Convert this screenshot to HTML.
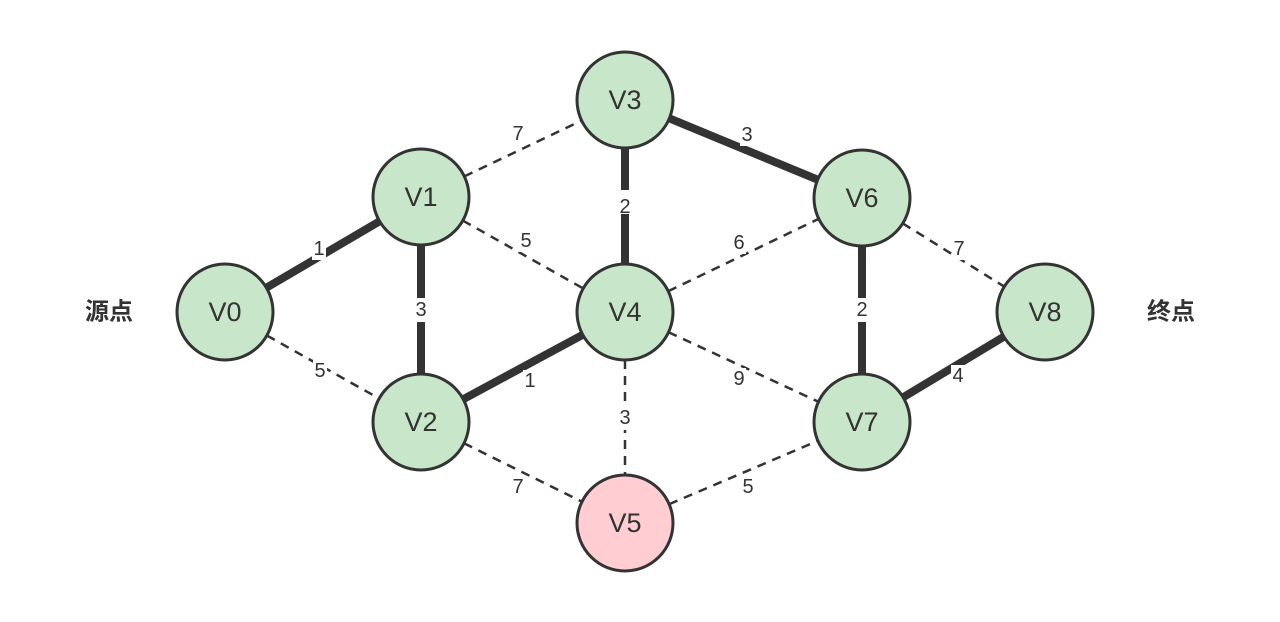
<!DOCTYPE html>
<html><head><meta charset="utf-8"><style>
html,body{margin:0;padding:0;background:#fff;}
svg{display:block;}
text{font-family:"Liberation Sans","Noto Sans CJK SC",sans-serif;}
</style></head><body>
<svg width="1280" height="622" viewBox="0 0 1280 622" xmlns="http://www.w3.org/2000/svg">
<g stroke="#333" fill="none">
<g stroke-width="8">
<line x1="225" y1="312" x2="421" y2="197"/>
<line x1="421" y1="197" x2="421" y2="422"/>
<line x1="421" y1="422" x2="625" y2="312"/>
<line x1="625" y1="100" x2="625" y2="312"/>
<line x1="625" y1="100" x2="862" y2="198"/>
<line x1="862" y1="198" x2="862" y2="422"/>
<line x1="862" y1="422" x2="1045" y2="312"/>
</g>
<g stroke-width="2.5" stroke-dasharray="9 7">
<line x1="225" y1="312" x2="421" y2="422"/>
<line x1="421" y1="197" x2="625" y2="100"/>
<line x1="421" y1="197" x2="625" y2="312"/>
<line x1="625" y1="312" x2="862" y2="198"/>
<line x1="625" y1="312" x2="862" y2="422"/>
<line x1="625" y1="312" x2="625" y2="523"/>
<line x1="421" y1="422" x2="625" y2="523"/>
<line x1="625" y1="523" x2="862" y2="422"/>
<line x1="862" y1="198" x2="1045" y2="312"/>
</g>
</g>
<g font-size="20" fill="#333" text-anchor="middle" dominant-baseline="central">
<g fill="#fff"><rect x="312" y="238" width="14" height="22"/><rect x="413" y="298" width="16" height="24"/><rect x="523" y="370" width="14" height="22"/><rect x="617" y="190" width="16" height="24"/><rect x="740" y="124" width="14" height="22"/><rect x="854" y="298" width="16" height="24"/><rect x="951" y="365" width="14" height="22"/><rect x="313" y="360" width="14" height="22"/><rect x="511" y="123" width="14" height="22"/><rect x="519" y="230" width="14" height="22"/><rect x="732" y="232" width="14" height="22"/><rect x="732" y="368" width="14" height="22"/><rect x="617" y="406" width="16" height="24"/><rect x="511" y="476" width="14" height="22"/><rect x="741" y="476" width="14" height="22"/><rect x="952" y="238" width="14" height="22"/></g>
<text x="319" y="249">1</text><text x="421" y="310">3</text><text x="530" y="381">1</text><text x="625" y="207">2</text><text x="747" y="135">3</text><text x="862" y="310">2</text><text x="958" y="376">4</text>
<text x="320" y="371">5</text><text x="518" y="134">7</text><text x="526" y="241">5</text><text x="739" y="243">6</text><text x="739" y="379">9</text><text x="625" y="418">3</text><text x="518" y="487">7</text><text x="748" y="487">5</text><text x="959" y="249">7</text>
</g>
<g stroke="#333" stroke-width="3" fill="#c8e6c9">
<circle cx="225" cy="312" r="48"/><circle cx="421" cy="197" r="48"/><circle cx="421" cy="422" r="48"/><circle cx="625" cy="100" r="48"/><circle cx="625" cy="312" r="48"/><circle cx="862" cy="198" r="48"/><circle cx="862" cy="422" r="48"/><circle cx="1045" cy="312" r="48"/>
<circle cx="625" cy="523" r="48" fill="#ffcdd2"/>
</g>
<g font-size="27" fill="#333" text-anchor="middle" dominant-baseline="central">
<text x="225" y="312">V0</text><text x="421" y="197">V1</text><text x="421" y="422">V2</text><text x="625" y="100">V3</text><text x="625" y="312">V4</text><text x="625" y="523">V5</text><text x="862" y="198">V6</text><text x="862" y="422">V7</text><text x="1045" y="312">V8</text>
</g>
<g font-size="24" font-weight="bold" fill="#333" text-anchor="middle" dominant-baseline="central">
<text x="109" y="312">源点</text><text x="1171" y="312">终点</text>
</g>
</svg>
</body></html>
